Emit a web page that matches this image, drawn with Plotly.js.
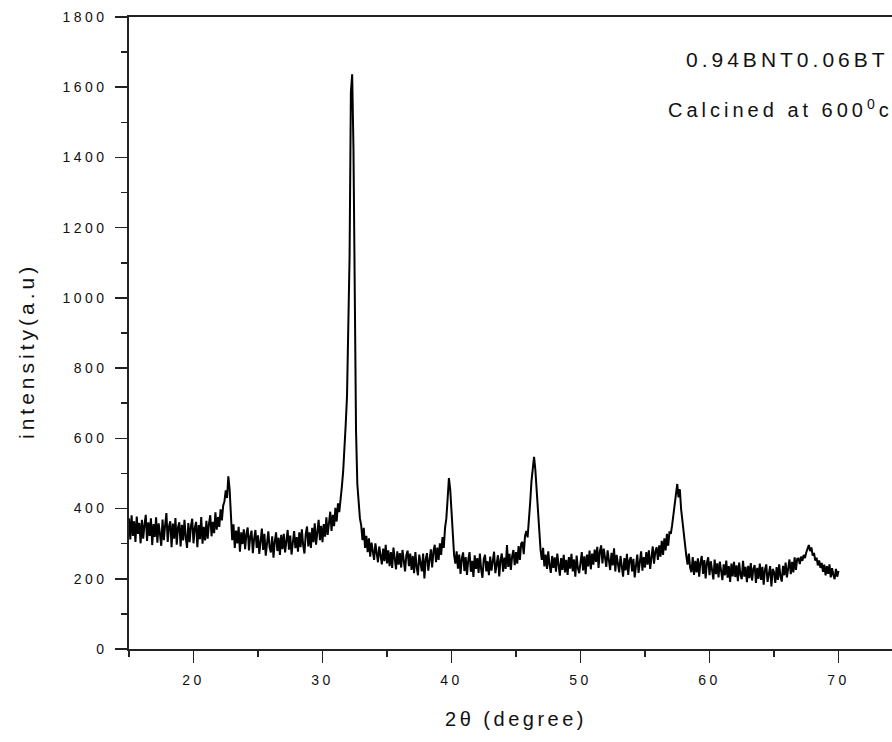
<!DOCTYPE html>
<html>
<head>
<meta charset="utf-8">
<script src="https://cdn.plot.ly/plotly-3.0.1.min.js"></script>
<style>
  html, body { margin: 0; padding: 0; overflow: hidden; background: #fff; }
  #chart { width: 910px; height: 742px; }
  .xtick text, .ytick text { letter-spacing: 3.5px; }
  .g-xtitle text { letter-spacing: 3.5px; }
  .annotation-text { letter-spacing: 4px; }
</style>
</head>
<body>
<div id="chart"></div>
<script>
// Scan grid (2θ start and step, degrees)
const angleStart = 15.0;
const angleStep = 0.1;

// Intensity (a.u.), 10 values per degree, 15.0 .. 70.0
const intensity = [
  372, 312, 381, 322, 364, 305, 377, 328, 359, 301,   // 15
  368, 314, 354, 382, 308, 361, 322, 372, 296, 356,   // 16
  319, 375, 303, 358, 328, 294, 369, 310, 352, 387,   // 17
  305, 349, 364, 290, 357, 314, 373, 297, 346, 361,   // 18
  292, 354, 309, 368, 318, 288, 359, 304, 350, 371,   // 19
  301, 345, 362, 290, 353, 313, 376, 300, 348, 309,   // 20
  365, 314, 357, 381, 321, 362, 330, 389, 340, 376,   // 21
  348, 398, 366, 408, 421, 452, 430, 492, 455, 372,   // 22
  310, 355, 288, 337, 301, 348, 277, 332, 299, 341,   // 23
  284, 328, 346, 281, 321, 337, 273, 314, 339, 288,   // 24
  324, 271, 316, 343, 282, 328, 266, 312, 335, 289,   // 25
  275, 321, 260, 306, 332, 279, 317, 268, 325, 284,   // 26
  328, 275, 314, 339, 283, 323, 269, 310, 336, 287,   // 27
  319, 277, 332, 290, 341, 296, 272, 327, 349, 292,   // 28
  332, 288, 345, 304, 358, 297, 337, 368, 310, 351,   // 29
  304, 356, 320, 375, 325, 362, 391, 336, 382, 350,   // 30
  402, 363, 415, 390, 440, 462, 505, 560, 640, 720,   // 31
  890, 1120, 1586, 1637, 1427, 890, 620, 470, 410, 372, // 32
  352, 310, 345, 288, 322, 276, 315, 263, 303, 272,   // 33
  254, 301, 266, 247, 292, 260, 241, 286, 250, 297,   // 34
  244, 281, 236, 276, 231, 289, 249, 227, 278, 240,   // 35
  273, 232, 282, 243, 221, 268, 280, 236, 272, 225,   // 36
  265, 216, 276, 233, 210, 269, 239, 221, 272, 201,   // 37
  256, 273, 223, 262, 284, 232, 278, 297, 247, 289,   // 38
  254, 301, 268, 319, 288, 345, 372, 428, 487, 455,   // 39
  398, 322, 268, 243, 278, 229, 269, 214, 258, 275,   // 40
  222, 262, 211, 254, 276, 220, 251, 205, 267, 228,   // 41
  259, 217, 272, 226, 203, 256, 268, 221, 250, 210,   // 42
  263, 223, 255, 277, 216, 248, 267, 207, 254, 272,   // 43
  220, 260, 228, 296, 234, 271, 225, 264, 282, 239,   // 44
  276, 243, 293, 254, 300, 305, 270, 322, 336, 318,   // 45
  362, 418, 478, 526, 547, 510, 452, 372, 315, 284,   // 46
  254, 288, 235, 269, 228, 278, 239, 217, 265, 231,   // 47
  261, 220, 272, 232, 209, 259, 225, 268, 218, 254,   // 48
  211, 262, 229, 271, 221, 255, 206, 266, 230, 216,   // 49
  257, 276, 224, 264, 213, 269, 235, 280, 227, 272,   // 50
  240, 283, 248, 291, 231, 278, 295, 244, 286, 252,   // 51
  234, 281, 247, 225, 274, 238, 287, 221, 268, 233,   // 52
  218, 265, 230, 206, 259, 224, 271, 211, 253, 262,   // 53
  221, 257, 204, 248, 269, 217, 254, 278, 223, 262,   // 54
  232, 276, 240, 281, 228, 269, 292, 243, 278, 290,   // 55
  254, 295, 263, 308, 268, 315, 281, 328, 294, 335,   // 56
  328, 352, 381, 405, 448, 470, 432, 455, 398, 362,   // 57
  318, 291, 266, 240, 272, 231, 219, 262, 211, 251,   // 58
  218, 258, 206, 247, 265, 214, 253, 201, 246, 261,   // 59
  210, 250, 219, 198, 255, 213, 244, 204, 249, 217,   // 60
  196, 241, 210, 252, 203, 236, 191, 243, 207, 248,   // 61
  205, 238, 193, 246, 211, 199, 251, 206, 234, 190,   // 62
  237, 202, 245, 195, 228, 239, 188, 231, 200, 243,   // 63
  197, 234, 183, 226, 241, 191, 222, 236, 178, 228,   // 64
  219, 188, 233, 197, 241, 206, 192, 237, 210, 246,   // 65
  204, 239, 255, 213, 248, 218, 261, 225, 257, 258,   // 66
  242, 263, 251, 268, 259, 275, 287, 296, 279, 289,   // 67
  266, 274, 252, 260, 238, 252, 231, 245, 220, 240,   // 68
  210, 236, 214, 241, 204, 230, 211, 199, 228, 206,   // 69
  222                                                 // 70.0
];

const xTickVals = [20, 30, 40, 50, 60, 70];
const yTickVals = [0, 200, 400, 600, 800, 1000, 1200, 1400, 1600, 1800];
const xTitle = "2θ (degree)";
const yTitle = "intensity(a.u)";
const sampleLabel = "0.94BNT0.06BT";
const calcLabel = "Calcined at 600<sup>0</sup>c";

const twoTheta = intensity.map((_, i) => +(angleStart + i * angleStep).toFixed(2));

const FONT = "Liberation Sans, Arial, sans-serif";

const trace = {
  type: "scatter",
  mode: "lines",
  x: twoTheta,
  y: intensity,
  line: { color: "#000000", width: 2 },
  hoverinfo: "skip",
  showlegend: false
};

const layout = {
  width: 910,
  height: 742,
  margin: { l: 129, r: 7, t: 17, b: 93, pad: 0 },
  paper_bgcolor: "#ffffff",
  plot_bgcolor: "#ffffff",
  font: { family: FONT, color: "#111111", size: 14 },
  xaxis: {
    range: [15, 75],
    tickvals: xTickVals,
    ticktext: xTickVals.map(String),
    ticks: "outside",
    ticklen: 12,
    tickwidth: 1.5,
    tickcolor: "#222",
    ticklabelstandoff: 6,
    minor: { dtick: 5, tick0: 0, ticks: "outside", ticklen: 6, tickwidth: 1.5, tickcolor: "#222", showgrid: false },
    showline: true,
    linecolor: "#222",
    linewidth: 1.6,
    mirror: true,
    showgrid: false,
    zeroline: false,
    tickfont: { family: FONT, size: 14, color: "#111" },
    title: { text: xTitle, font: { family: FONT, size: 20, color: "#111" }, standoff: 24 },
    automargin: false
  },
  yaxis: {
    range: [0, 1800],
    tickvals: yTickVals,
    ticktext: yTickVals.map(String),
    ticks: "outside",
    ticklen: 12,
    tickwidth: 1.5,
    tickcolor: "#222",
    ticklabelstandoff: 5,
    minor: { dtick: 100, tick0: 0, ticks: "outside", ticklen: 6, tickwidth: 1.5, tickcolor: "#222", showgrid: false },
    showline: true,
    linecolor: "#222",
    linewidth: 1.6,
    mirror: true,
    showgrid: false,
    zeroline: false,
    tickfont: { family: FONT, size: 14, color: "#111" },
    automargin: false
  },
  annotations: [
    {
      xref: "paper", yref: "paper",
      x: (27 - 129) / 774, y: (649 - 351) / 632,
      xanchor: "center", yanchor: "middle",
      textangle: -90,
      text: yTitle, showarrow: false,
      font: { family: FONT, size: 21, color: "#111" }
    },
    {
      xref: "paper", yref: "paper",
      x: (891 - 129) / 774, y: (649 - 59) / 632,
      xanchor: "right", yanchor: "middle",
      text: sampleLabel, showarrow: false,
      font: { family: FONT, size: 21, color: "#111" }
    },
    {
      xref: "paper", yref: "paper",
      x: (895 - 129) / 774, y: (649 - 108) / 632,
      xanchor: "right", yanchor: "middle",
      text: calcLabel, showarrow: false,
      font: { family: FONT, size: 20, color: "#111" }
    }
  ]
};

Plotly.newPlot("chart", [trace], layout, { staticPlot: true, displayModeBar: false });
</script>
</body>
</html>
